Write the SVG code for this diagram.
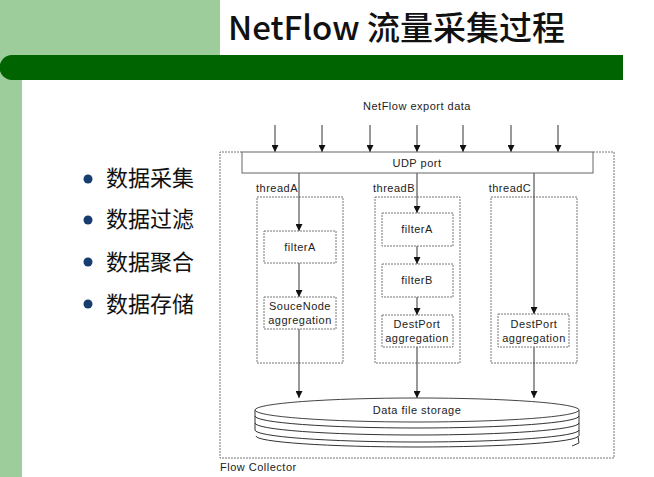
<svg xmlns="http://www.w3.org/2000/svg" width="654" height="477" viewBox="0 0 654 477">
<defs>
<style>
.lbl{font-family:"Liberation Sans",Arial,sans-serif;font-size:11px;letter-spacing:0.5px;fill:#222;text-anchor:middle}
.bx{fill:#fff;stroke:#777;stroke-width:1;stroke-dasharray:2 1}
.th{fill:none;stroke:#777;stroke-width:1;stroke-dasharray:2 1}
.ln{stroke:#333;stroke-width:1;fill:none}
.cn{font-family:"Noto Sans CJK SC","Noto Sans",sans-serif;font-size:22px;fill:#111}
</style>
<marker id="ah" viewBox="0 0 10 10" refX="10" refY="5" markerWidth="7" markerHeight="7" orient="auto" markerUnits="userSpaceOnUse">
<path d="M0,0 L10,5 L0,10 z" fill="#111"/>
</marker>
</defs>
<rect width="654" height="477" fill="#fff"/>
<g id="background">
<rect x="0" y="0" width="220" height="56" fill="#9dcd9b"/>
<rect x="0" y="56" width="22" height="421" fill="#9dcd9b"/>
<path d="M12,55 H623 V80 H12 A12.5,12.5 0 0 1 12,55 z" fill="#006400"/>
<text x="228" y="40" font-family="'Noto Sans CJK SC','Noto Sans',sans-serif" font-size="33" font-weight="500" fill="#111">NetFlow 流量采集过程</text>
</g>
<g id="bullets">
<circle cx="88" cy="179" r="4.5" fill="#173c6e"/>
<circle cx="88" cy="220" r="4.5" fill="#173c6e"/>
<circle cx="88" cy="262" r="4.5" fill="#173c6e"/>
<circle cx="88" cy="304" r="4.5" fill="#173c6e"/>
<text class="cn" x="106" y="186">数据采集</text>
<text class="cn" x="106" y="227">数据过滤</text>
<text class="cn" x="106" y="270">数据聚合</text>
<text class="cn" x="106" y="312">数据存储</text>
</g>
<g id="collector">
<path d="M242,152 H220 V458 H614 V152 H593" class="th" stroke="#999"/>
<text class="lbl" x="220" y="471" style="text-anchor:start">Flow Collector</text>
</g>
<g id="export-label"><text class="lbl" x="417" y="110">NetFlow export data</text></g>
<g id="threadA">
<rect class="th" x="257" y="197" width="86" height="166"/>
<text class="lbl" x="277" y="192">threadA</text>
</g>
<g id="threadB">
<rect class="th" x="375" y="197" width="85" height="166"/>
<text class="lbl" x="394" y="192">threadB</text>
</g>
<g id="threadC">
<rect class="th" x="491" y="197" width="86" height="166"/>
<text class="lbl" x="510" y="192">threadC</text>
</g>
<g id="connectors">
<line class="ln" x1="275" y1="125" x2="275" y2="152" marker-end="url(#ah)"/>
<line class="ln" x1="322" y1="125" x2="322" y2="152" marker-end="url(#ah)"/>
<line class="ln" x1="370" y1="125" x2="370" y2="152" marker-end="url(#ah)"/>
<line class="ln" x1="417" y1="125" x2="417" y2="152" marker-end="url(#ah)"/>
<line class="ln" x1="463" y1="125" x2="463" y2="152" marker-end="url(#ah)"/>
<line class="ln" x1="511" y1="125" x2="511" y2="152" marker-end="url(#ah)"/>
<line class="ln" x1="558" y1="125" x2="558" y2="152" marker-end="url(#ah)"/>
<line class="ln" x1="299" y1="173" x2="299" y2="231" marker-end="url(#ah)"/>
<line class="ln" x1="299" y1="263" x2="299" y2="297" marker-end="url(#ah)"/>
<line class="ln" x1="299" y1="329" x2="299" y2="398" marker-end="url(#ah)"/>
<line class="ln" x1="417" y1="173" x2="417" y2="213" marker-end="url(#ah)"/>
<line class="ln" x1="417" y1="246" x2="417" y2="264" marker-end="url(#ah)"/>
<line class="ln" x1="417" y1="297" x2="417" y2="315" marker-end="url(#ah)"/>
<line class="ln" x1="417" y1="347" x2="417" y2="398" marker-end="url(#ah)"/>
<line class="ln" x1="534" y1="173" x2="534" y2="314" marker-end="url(#ah)"/>
<line class="ln" x1="534" y1="347" x2="534" y2="398" marker-end="url(#ah)"/>
</g>
<g id="udp">
<rect x="242" y="152" width="351" height="21" fill="#fff" stroke="#666" stroke-width="1"/>
<text class="lbl" x="417" y="167">UDP port</text>
</g>
<g id="A-filterA">
<rect class="bx" x="264" y="231" width="72" height="32"/>
<text class="lbl" x="300" y="251">filterA</text>
</g>
<g id="A-agg">
<rect class="bx" x="264" y="297" width="72" height="32"/>
<text class="lbl" x="300" y="310">SouceNode</text>
<text class="lbl" x="300" y="324">aggregation</text>
</g>
<g id="B-filterA">
<rect class="bx" x="382" y="213" width="71" height="33"/>
<text class="lbl" x="417" y="233">filterA</text>
</g>
<g id="B-filterB">
<rect class="bx" x="382" y="264" width="71" height="33"/>
<text class="lbl" x="417" y="284">filterB</text>
</g>
<g id="B-agg">
<rect class="bx" x="382" y="315" width="71" height="32"/>
<text class="lbl" x="417" y="328">DestPort</text>
<text class="lbl" x="417" y="342">aggregation</text>
</g>
<g id="C-agg">
<rect class="bx" x="498" y="314" width="71" height="33"/>
<text class="lbl" x="534" y="328">DestPort</text>
<text class="lbl" x="534" y="342">aggregation</text>
</g>
<g id="storage">
<path class="ln" stroke="#444" d="M255,416 A162,12 0 0 0 579,416"/>
<path class="ln" stroke="#444" d="M255,423 A162,12 0 0 0 579,423"/>
<path class="ln" stroke="#444" d="M255,430 A162,12 0 0 0 579,430"/>
<path class="ln" stroke="#444" d="M256,436 A161,11 0 0 0 578,436 L579,443 L572,446"/>
<path class="ln" stroke="#444" d="M255,410 V430 M579,410 V436"/>
<ellipse cx="417" cy="410" rx="162" ry="12" fill="#fff" stroke="#444" stroke-width="1"/>
<text class="lbl" x="417" y="414">Data file storage</text>
</g>
</svg>
